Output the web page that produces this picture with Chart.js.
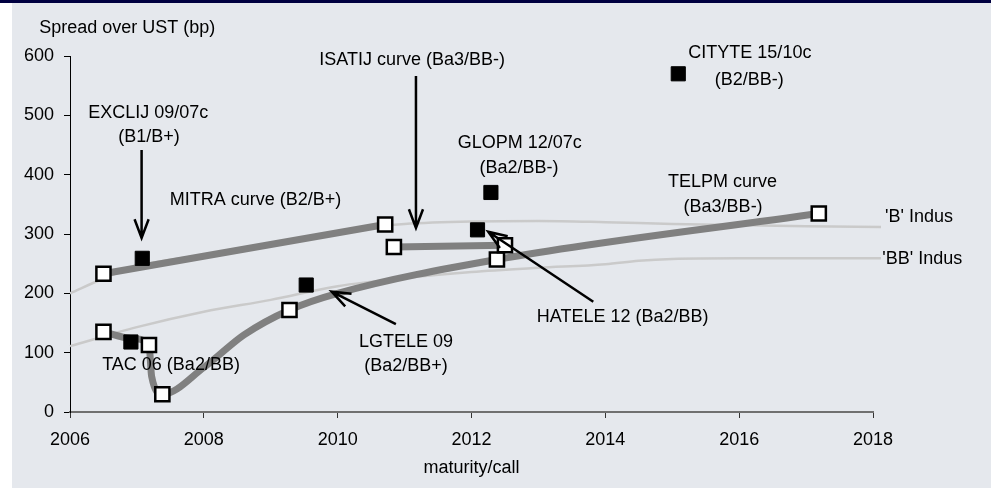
<!DOCTYPE html>
<html lang="en">
<head>
    <meta charset="UTF-8">
    <title>Spread over UST vs maturity/call</title>
    <script src="https://cdn.jsdelivr.net/npm/chart.js"></script>
    <style>
        body {
            margin: 0;
            background: #ffffff;
        }

        #topBar {
            position: absolute;
            left: 0;
            top: 0;
            width: 991px;
            height: 3px;
            background: #000040;
        }

        #panel {
            position: absolute;
            left: 12px;
            top: 3px;
            width: 979px;
            height: 485px;
            background: #e5e8ed;
        }

        #spreadChart {
            position: absolute;
            left: 0;
            top: 0;
        }
    </style>
</head>
<body>
<div id="topBar"></div>
<div id="panel"></div>
<canvas id="spreadChart" width="991" height="488"></canvas>

<script>
    // individual bonds (filled squares)
    const filledX = [2007.08, 2006.91, 2009.53, 2012.09, 2012.29, 2015.09];
    const filledY = [259, 118, 214, 307, 370, 570];

    // bonds on the issuer curves (open squares)
    const openX = [2006.5, 2006.5, 2007.18, 2007.38, 2009.28, 2010.71, 2010.84, 2012.38, 2012.5, 2017.19];
    const openY = [233, 135, 113, 30, 172, 316, 278, 257, 281, 334.5];

    // issuer curves (thick grey)
    const mitraX = [2006.5, 2010.71];
    const mitraY = [233, 316];
    const isatijX = [2010.84, 2012.5];
    const isatijY = [278, 281];
    const telpmX = [2006.5, 2006.91, 2007.18, 2007.22, 2007.38, 2008.0, 2008.6, 2009.28, 2010.0, 2012.38, 2017.19];
    const telpmY = [135, 124, 114, 60, 30, 75, 130, 172, 200, 257, 334.5];

    // industry curves (thin light grey)
    const bIndusX = [2006, 2006.5, 2007, 2008, 2009, 2010, 2010.5, 2011, 2012, 2013, 2014, 2015, 2016, 2017, 2018.12];
    const bIndusY = [200, 225, 246, 265, 285, 304, 312, 317, 321, 322, 320, 317, 315, 313, 312];
    const bbIndusX = [2006, 2007, 2008, 2009, 2010, 2011, 2012, 2013, 2014, 2014.5, 2015, 2016, 2017, 2018.12];
    const bbIndusY = [111, 143, 169, 189, 212, 226, 236, 243, 249, 255, 258, 259, 259, 259];

    const xTicks = [2006, 2008, 2010, 2012, 2014, 2016, 2018];
    const yTicks = [0, 100, 200, 300, 400, 500, 600];

    const FONT = '"Liberation Sans", Arial, sans-serif';

    // text notes and arrows, placed in data units
    const notes = [
        {text: 'Spread over UST (bp)', x: 2005.54, y: 647, align: 'left'},
        {text: 'EXCLIJ 09/07c', x: 2007.17, y: 504},
        {text: '(B1/B+)', x: 2007.18, y: 463.5},
        {text: 'MITRA curve (B2/B+)', x: 2007.49, y: 357, align: 'left'},
        {text: 'ISATIJ curve (Ba3/BB-)', x: 2012.5, y: 593, align: 'right'},
        {text: 'GLOPM 12/07c', x: 2012.72, y: 453.4},
        {text: '(Ba2/BB-)', x: 2012.71, y: 411},
        {text: 'CITYTE 15/10c', x: 2016.16, y: 605},
        {text: '(B2/BB-)', x: 2016.15, y: 559.6},
        {text: 'TELPM curve', x: 2015.75, y: 387.6},
        {text: '(Ba3/BB-)', x: 2015.76, y: 345.5},
        {text: 'TAC 06 (Ba2/BB)', x: 2007.51, y: 79.2},
        {text: 'LGTELE 09', x: 2011.02, y: 118.5},
        {text: '(Ba2/BB+)', x: 2011.02, y: 77.5},
        {text: 'HATELE 12 (Ba2/BB)', x: 2014.26, y: 160},
        {text: "'B' Indus", x: 2018.18, y: 328, align: 'left'},
        {text: "'BB' Indus", x: 2018.14, y: 257.9, align: 'left'}
    ];

    const arrows = [
        {x0: 2007.07, y0: 441.6, x1: 2007.07, y1: 293.3},
        {x0: 2011.17, y0: 566.3, x1: 2011.17, y1: 310.1},
        {x0: 2010.87, y0: 148.3, x1: 2009.91, y1: 202.8},
        {x0: 2013.82, y0: 185.9, x1: 2012.25, y1: 303.9}
    ];

    function toPoints(xs, ys) {
        return xs.map((x, i) => ({x: x, y: ys[i]}));
    }

    const notesPlugin = {
        id: 'notes',
        afterDatasetsDraw(chart) {
            const ctx = chart.ctx;
            const xs = chart.scales.x;
            const ys = chart.scales.y;
            ctx.save();

            ctx.strokeStyle = '#000';
            ctx.lineWidth = 2.5;
            ctx.lineJoin = 'miter';
            arrows.forEach(a => {
                const x0 = xs.getPixelForValue(a.x0), y0 = ys.getPixelForValue(a.y0);
                const x1 = xs.getPixelForValue(a.x1), y1 = ys.getPixelForValue(a.y1);
                const ang = Math.atan2(y1 - y0, x1 - x0);
                const len = 20, spread = 0.36;
                ctx.beginPath();
                ctx.moveTo(x0, y0);
                ctx.lineTo(x1, y1);
                ctx.moveTo(x1 - len * Math.cos(ang - spread), y1 - len * Math.sin(ang - spread));
                ctx.lineTo(x1, y1);
                ctx.lineTo(x1 - len * Math.cos(ang + spread), y1 - len * Math.sin(ang + spread));
                ctx.stroke();
            });

            ctx.fillStyle = '#000';
            ctx.font = '18px ' + FONT;
            ctx.textBaseline = 'middle';
            notes.forEach(n => {
                ctx.textAlign = n.align || 'center';
                ctx.fillText(n.text, xs.getPixelForValue(n.x), ys.getPixelForValue(n.y));
            });
            ctx.restore();
        }
    };

    Chart.defaults.font.family = FONT;
    Chart.defaults.font.size = 18;
    Chart.defaults.color = '#000';

    const curveStyle = {
        showLine: true,
        borderColor: '#808080',
        borderWidth: 7,
        pointRadius: 0,
        cubicInterpolationMode: 'monotone'
    };
    const indusStyle = {
        showLine: true,
        borderColor: '#cacaca',
        borderWidth: 2.5,
        pointRadius: 0,
        cubicInterpolationMode: 'monotone',
        clip: 20
    };

    new Chart(document.getElementById('spreadChart').getContext('2d'), {
        type: 'scatter',
        data: {
            datasets: [
                {
                    label: 'bonds',
                    data: toPoints(filledX, filledY),
                    pointStyle: 'rect',
                    pointRadius: 10,
                    pointBackgroundColor: '#000',
                    pointBorderColor: '#000',
                    pointBorderWidth: 1
                },
                {
                    label: 'curve bonds',
                    data: toPoints(openX, openY),
                    pointStyle: 'rect',
                    pointRadius: 10,
                    pointBackgroundColor: '#fff',
                    pointBorderColor: '#000',
                    pointBorderWidth: 2.5
                },
                {label: 'MITRA curve', data: toPoints(mitraX, mitraY), ...curveStyle},
                {label: 'ISATIJ curve', data: toPoints(isatijX, isatijY), ...curveStyle},
                {label: 'TELPM curve', data: toPoints(telpmX, telpmY), ...curveStyle},
                {label: "'B' Indus", data: toPoints(bIndusX, bIndusY), ...indusStyle},
                {label: "'BB' Indus", data: toPoints(bbIndusX, bbIndusY), ...indusStyle}
            ]
        },
        options: {
            responsive: false,
            animation: false,
            events: [],
            layout: {padding: {top: 56, right: 118, left: 0, bottom: 0}},
            plugins: {
                legend: {display: false},
                tooltip: {enabled: false}
            },
            scales: {
                x: {
                    type: 'linear',
                    min: xTicks[0],
                    max: xTicks[xTicks.length - 1],
                    afterBuildTicks: s => { s.ticks = xTicks.map(v => ({value: v})); },
                    afterFit: s => { s.height = 76; },
                    ticks: {padding: 11, callback: v => String(v)},
                    grid: {drawOnChartArea: false, tickLength: 6, color: '#333'},
                    border: {color: '#707070', width: 2},
                    title: {display: true, text: 'maturity/call', padding: {top: 0, bottom: 9}}
                },
                y: {
                    type: 'linear',
                    min: yTicks[0],
                    max: yTicks[yTicks.length - 1],
                    afterBuildTicks: s => { s.ticks = yTicks.map(v => ({value: v})); },
                    afterFit: s => { s.width = 70; },
                    ticks: {padding: 10},
                    grid: {drawOnChartArea: false, tickLength: 6, color: '#000'},
                    border: {color: '#000', width: 1}
                }
            }
        },
        plugins: [notesPlugin]
    });
</script>
</body>
</html>
